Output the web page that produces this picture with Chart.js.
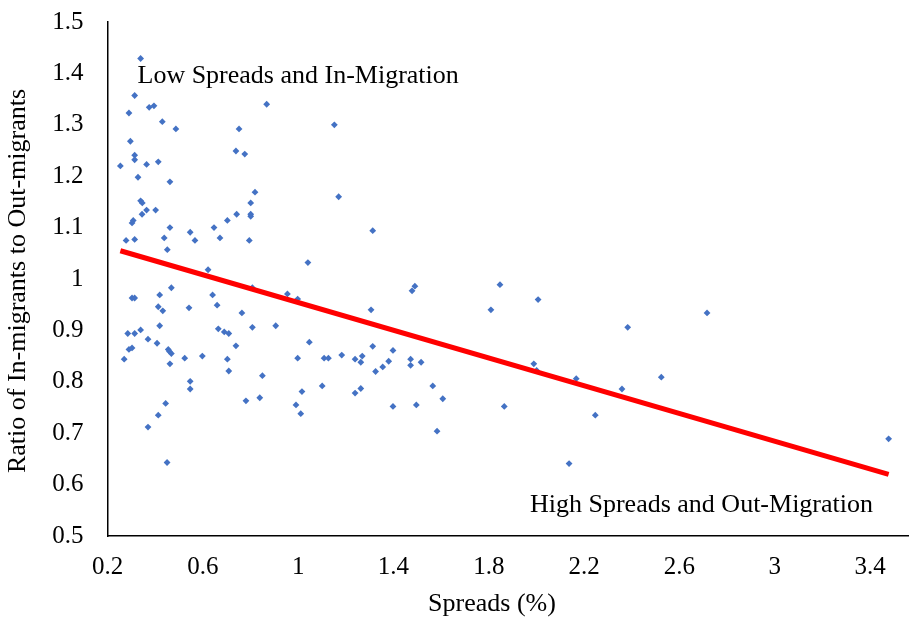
<!DOCTYPE html>
<html>
<head>
<meta charset="utf-8">
<script src="https://cdn.jsdelivr.net/npm/chart.js@4.4.1/dist/chart.umd.min.js"></script>
<style>
  html, body { margin: 0; padding: 0; background: #fff; overflow: hidden; }
  #wrap { width: 909px; height: 617px; overflow: hidden; }
</style>
</head>
<body>
<div id="wrap"><canvas id="chart" width="930" height="617"></canvas></div>
<script>
// values
const spreads = [
  0.339, 0.314, 0.375, 0.395, 0.290, 0.868, 0.430, 0.487, 0.752, 0.296,
  0.314, 0.314, 0.254, 0.364, 0.413, 0.739, 0.776, 0.328, 0.462, 0.819,
  0.339, 0.346, 0.364, 0.402, 0.345, 0.308, 0.303, 0.801, 0.742, 0.801,
  0.801, 0.703, 0.462, 0.647, 0.547, 0.438, 0.567, 0.672, 0.795, 0.278,
  0.314, 0.451, 0.622, 0.468, 0.808, 0.955, 0.998, 0.303, 0.314, 0.419,
  0.641, 0.413, 0.432, 0.660, 0.542, 0.764, 0.419, 0.808, 0.906, 0.285,
  0.314, 0.339, 0.665, 0.690, 0.709, 0.370, 0.408, 0.290, 0.303, 0.455,
  0.460, 0.468, 0.739, 0.524, 0.598, 0.270, 0.462, 0.703, 0.998, 0.709,
  0.547, 0.547, 0.444, 0.781, 0.850, 0.839, 0.413, 0.370, 0.991, 1.011,
  0.450, 1.152, 1.170, 1.313, 1.041, 1.490, 1.478, 1.847, 1.809, 1.306,
  1.047, 1.109, 1.127, 1.183, 1.239, 1.269, 1.263, 1.313, 1.398, 1.380,
  1.355, 1.325, 1.472, 1.472, 1.516, 1.101, 1.016, 1.239, 1.263, 1.398,
  1.496, 1.565, 1.607, 1.865, 1.583, 2.007, 2.383, 2.716, 1.989, 2.001,
  2.167, 2.359, 2.524, 2.247, 2.137, 3.478
];
const ratios = [
  1.429, 1.357, 1.334, 1.337, 1.323, 1.340, 1.306, 1.292, 1.292, 1.268,
  1.241, 1.232, 1.220, 1.223, 1.228, 1.249, 1.243, 1.198, 1.189, 1.169,
  1.152, 1.148, 1.134, 1.134, 1.126, 1.114, 1.109, 1.148, 1.126, 1.126,
  1.122, 1.114, 1.100, 1.100, 1.091, 1.080, 1.075, 1.080, 1.075, 1.075,
  1.077, 1.057, 1.018, 0.983, 0.983, 0.971, 0.961, 0.963, 0.963, 0.969,
  0.969, 0.946, 0.938, 0.949, 0.944, 0.934, 0.909, 0.906, 0.909, 0.894,
  0.894, 0.901, 0.903, 0.897, 0.894, 0.883, 0.875, 0.863, 0.866, 0.863,
  0.859, 0.855, 0.870, 0.846, 0.850, 0.844, 0.835, 0.844, 0.846, 0.821,
  0.801, 0.786, 0.758, 0.763, 0.812, 0.769, 0.735, 0.712, 0.755, 0.738,
  0.643, 1.300, 1.160, 1.094, 1.032, 0.986, 0.977, 0.989, 0.940, 0.940,
  0.877, 0.846, 0.846, 0.852, 0.844, 0.850, 0.838, 0.869, 0.861, 0.840,
  0.829, 0.820, 0.844, 0.832, 0.838, 0.792, 0.781, 0.778, 0.787, 0.752,
  0.755, 0.792, 0.767, 0.752, 0.704, 0.960, 0.906, 0.934, 0.835, 0.822,
  0.806, 0.786, 0.809, 0.735, 0.641, 0.689
];

// trend line end points
const trendX = [0.254, 3.478];
const trendY = [1.055, 0.620];

const xTicks = [0.2, 0.6, 1, 1.4, 1.8, 2.2, 2.6, 3, 3.4];
const xTickLabels = ['0.2', '0.6', '1', '1.4', '1.8', '2.2', '2.6', '3', '3.4'];
const yTicks = [0.5, 0.6, 0.7, 0.8, 0.9, 1, 1.1, 1.2, 1.3, 1.4, 1.5];
const yTickLabels = ['0.5', '0.6', '0.7', '0.8', '0.9', '1', '1.1', '1.2', '1.3', '1.4', '1.5'];

const xTitle = 'Spreads (%)';
const yTitle = 'Ratio of In-migrants to Out-migrants';
const noteLow = 'Low Spreads and In-Migration';
const noteHigh = 'High Spreads and Out-Migration';

const serif = '"Liberation Serif", "Times New Roman", serif';

const textPlugin = {
  id: 'texts',
  afterDraw(chart) {
    const { ctx, chartArea } = chart;
    ctx.save();
    ctx.fillStyle = '#000';
    ctx.font = '26px ' + serif;

    ctx.textBaseline = 'alphabetic';
    ctx.textAlign = 'left';
    ctx.fillText(noteLow, chartArea.left + 30, chartArea.top + 61);
    ctx.textAlign = 'right';
    ctx.fillText(noteHigh, 873, chartArea.bottom - 24);

    ctx.textBaseline = 'middle';
    ctx.textAlign = 'center';
    ctx.fillText(xTitle, 492, 604);

    ctx.translate(18, (chartArea.top + chartArea.bottom) / 2 + 2);
    ctx.rotate(-Math.PI / 2);
    ctx.fillText(yTitle, 0, 0);
    ctx.restore();
  }
};

new Chart(document.getElementById('chart'), {
  type: 'scatter',
  data: {
    datasets: [
      {
        type: 'line',
        data: trendX.map((x, i) => ({ x: x, y: trendY[i] })),
        borderColor: '#FF0000',
        borderWidth: 5,
        pointRadius: 0,
        fill: false,
        order: 0
      },
      {
        data: spreads.map((x, i) => ({ x: x, y: ratios[i] })),
        backgroundColor: '#4472C4',
        borderColor: '#4472C4',
        borderWidth: 0,
        pointStyle: 'rectRot',
        pointRadius: 3.4,
        order: 1
      }
    ]
  },
  options: {
    responsive: false,
    animation: false,
    layout: { padding: { top: 22, right: 12.3, bottom: 0, left: 0 } },
    plugins: {
      legend: { display: false },
      tooltip: { enabled: false }
    },
    scales: {
      x: {
        type: 'linear',
        min: 0.2,
        max: 3.6,
        afterFit: (scale) => {
          scale.height = 81;
          scale.paddingLeft = 0;
          scale.paddingRight = 0;
        },
        afterBuildTicks: (scale) => { scale.ticks = xTicks.map(v => ({ value: v })); },
        grid: { display: false, drawTicks: false },
        border: { display: true, color: '#000', width: 1.5 },
        ticks: {
          padding: 16,
          color: '#000',
          font: { family: serif, size: 25 },
          maxRotation: 0,
          autoSkip: false,
          callback: (v, i) => xTickLabels[i]
        }
      },
      y: {
        type: 'linear',
        min: 0.5,
        max: 1.5,
        afterFit: (scale) => {
          scale.width = 107.5;
          scale.paddingTop = 0;
          scale.paddingBottom = 0;
        },
        afterBuildTicks: (scale) => { scale.ticks = yTicks.map(v => ({ value: v })); },
        grid: { display: false, drawTicks: false },
        border: { display: true, color: '#000', width: 1.5 },
        ticks: {
          padding: 24,
          color: '#000',
          font: { family: serif, size: 25 },
          autoSkip: false,
          callback: (v, i) => yTickLabels[i]
        }
      }
    }
  },
  plugins: [textPlugin]
});
</script>
</body>
</html>
